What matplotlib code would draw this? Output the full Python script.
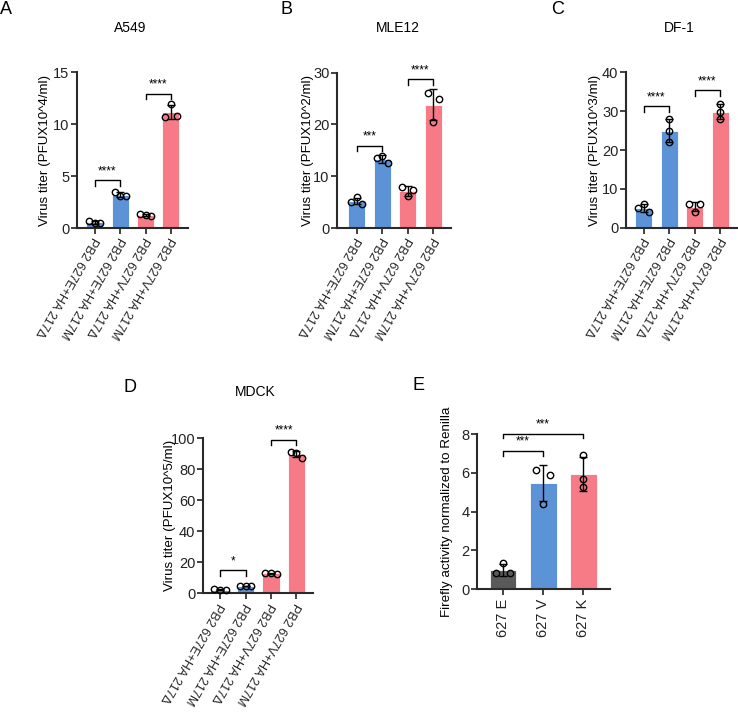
"""Five-panel virus titer / luciferase bar charts."""
import numpy as np
import matplotlib
matplotlib.use("Agg")
import matplotlib.pyplot as plt

plt.rcParams["font.family"] = ["Liberation Sans", "DejaVu Sans"]

W, H = 738, 715
BLUE, PINK, GRAY = "#5b93d6", "#f77b87", "#5a5a5a"

GROUPS = ["PB2 627E+HA 217\u0394", "PB2 627E+HA 217M",
          "PB2 627V+HA 217\u0394", "PB2 627V+HA 217M"]
GROUP_COLORS = [BLUE, BLUE, PINK, PINK]

# replicate values per bar
A549 = [[0.65, 0.50, 0.45], [3.45, 3.10, 3.05], [1.30, 1.25, 1.16], [10.7, 11.9, 10.8]]
MLE12 = [[5.1, 5.9, 4.7], [13.6, 14.0, 12.5], [8.0, 6.1, 7.4], [26.0, 20.4, 25.0]]
DF1 = [[5.0, 6.0, 4.0], [27.9, 25.0, 22.0], [6.0, 4.0, 6.0], [31.8, 29.9, 27.9]]
MDCK = [[2.5, 2.3, 2.2], [4.6, 4.4, 4.5], [13.0, 12.8, 12.7], [91.2, 90.3, 87.5]]

LUC_GROUPS = ["627 E", "627 V", "627 K"]
LUC_COLORS = [GRAY, BLUE, PINK]
LUC = [[0.82, 1.34, 0.82], [6.15, 4.39, 5.89], [6.92, 5.67, 5.26]]

# significance brackets: (bar i, bar j, height, label)
A549_SIG = [(0, 1, 4.6, "****"), (2, 3, 12.9, "****")]
MLE12_SIG = [(0, 1, 15.9, "***"), (2, 3, 28.7, "****")]
DF1_SIG = [(0, 1, 31.2, "****"), (2, 3, 35.4, "****")]
MDCK_SIG = [(0, 1, 14.8, "*"), (2, 3, 98.9, "****")]
LUC_SIG = [(0, 1, 7.13, "***"), (0, 2, 8.02, "***")]

fig = plt.figure(figsize=(W / 100, H / 100), dpi=100)


def panel(px_left, px_right, px_top, px_bottom):
    return fig.add_axes([px_left / W, 1 - px_bottom / H,
                         (px_right - px_left) / W, (px_bottom - px_top) / H])


def draw(ax, data, colors, sig, yticks, ylabel, xlim, jitter, label_x,
         rotation=240, drop=None):
    data = [np.asarray(d) for d in data]
    x = np.arange(len(data))
    means = [d.mean() for d in data]
    sds = [d.std(ddof=1) for d in data]
    ax.bar(x, means, width=0.67, color=colors, edgecolor="white",
           linewidth=0.6, zorder=2)
    ax.errorbar(x, means, yerr=sds, fmt="none", ecolor="black",
                elinewidth=1.0, capsize=3.2, capthick=1.0, zorder=3)
    for i, d in enumerate(data):
        ax.plot(x[i] + np.asarray(jitter[i]), d, "o", ms=4.6, mfc="none",
                mec="black", mew=1.0, zorder=4, clip_on=False)
    top = yticks[-1]
    if drop is None:
        drop = top * 0.035
    for i, j, h, txt in sig:
        ax.plot([x[i], x[i], x[j], x[j]], [h - drop, h, h, h - drop],
                color="black", lw=1.0, clip_on=False, zorder=5)
        ax.text((x[i] + x[j]) / 2, h + top * 0.02, txt, ha="center",
                va="bottom", fontsize=8.5, clip_on=False)
    ax.set_ylim(0, top)
    ax.set_xlim(*xlim)
    ax.set_yticks(yticks)
    ax.tick_params(axis="y", labelsize=10.5, length=4, width=1.2, pad=1.5,
                   colors="#222222")
    ax.tick_params(axis="x", length=4, width=1.2, colors="#222222", pad=3)
    ax.set_xticks(x)
    if rotation == 90:
        ax.set_xticklabels(LUC_GROUPS, rotation=90, fontsize=10.5)
    else:
        ax.set_xticklabels(GROUPS, rotation=rotation, ha="left", va="center",
                           rotation_mode="anchor", fontsize=9)
    for s in ("top", "right"):
        ax.spines[s].set_visible(False)
    for s in ("left", "bottom"):
        ax.spines[s].set_linewidth(1.5)
        ax.spines[s].set_color("#2a2a2a")
    ax.set_ylabel(ylabel, fontsize=9.6)
    ax.yaxis.set_label_coords(label_x, 0.5)


J3 = [-0.22, 0.0, 0.22]
axA = panel(77, 188, 72, 228)
draw(axA, A549, GROUP_COLORS, A549_SIG, [0, 5, 10, 15],
     "Virus titer (PFUX10^4/ml)", (-0.7, 3.67), [J3] * 4, -0.235)

axB = panel(337, 451, 72.7, 228)
draw(axB, MLE12, GROUP_COLORS, MLE12_SIG, [0, 10, 20, 30],
     "Virus titer (PFUX10^2/ml)", (-0.78, 3.7), [J3] * 4, -0.2)

axC = panel(626, 738, 72.3, 227.7)
draw(axC, DF1, GROUP_COLORS, DF1_SIG, [0, 10, 20, 30, 40],
     "Virus titer (PFUX10^3/ml)", (-0.69, 3.7),
     [J3, [0, 0, 0], J3, [0, 0, 0]], -0.22)

axD = panel(203, 313, 438.3, 593.3)
draw(axD, MDCK, GROUP_COLORS, MDCK_SIG, [0, 20, 40, 60, 80, 100],
     "Virus titer (PFUX10^5/ml)", (-0.67, 3.65), [J3] * 4, -0.25)

axE = panel(477, 610, 434, 589.3)
draw(axE, LUC, LUC_COLORS, LUC_SIG, [0, 2, 4, 6, 8],
     "Firefly activity normalized to Renilla", (-0.65, 2.67),
     [[-0.17, 0, 0.17], [-0.17, 0, 0.17], [0, 0, 0]], -0.18, rotation=90,
     drop=0.25)

for txt, x, y in [("A549", 130, 28), ("MLE12", 398, 28), ("DF-1", 679, 28),
                  ("MDCK", 255, 392)]:
    fig.text(x / W, 1 - y / H, txt, ha="center", va="center", fontsize=10)
for txt, x, y in [("A", 6, 9), ("B", 286, 9), ("C", 558, 9),
                  ("D", 130, 387), ("E", 418, 385)]:
    fig.text(x / W, 1 - y / H, txt, ha="center", va="center", fontsize=13)

fig.savefig("out.png", dpi=100, facecolor="white")
